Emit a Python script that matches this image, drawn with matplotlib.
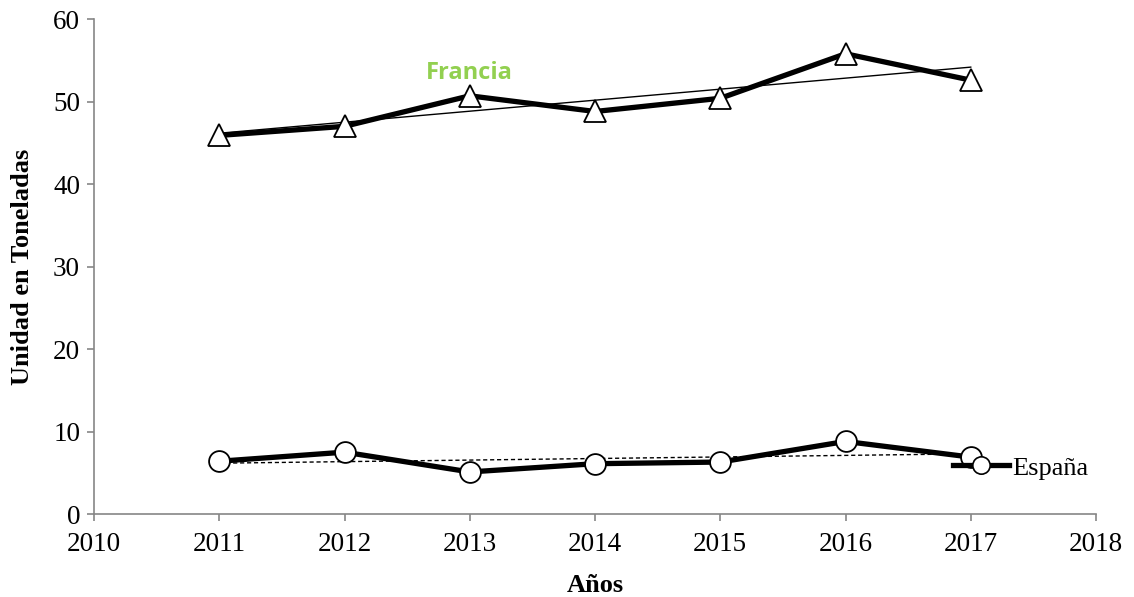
import numpy as np
import matplotlib
matplotlib.use('Agg')
import matplotlib.pyplot as plt
from matplotlib.lines import Line2D

years = [2011, 2012, 2013, 2014, 2015, 2016, 2017]
francia = [45.9, 47.0, 50.7, 48.8, 50.4, 55.8, 52.6]
espana = [6.4, 7.5, 5.1, 6.1, 6.3, 8.8, 6.9]

plt.rcParams['font.family'] = ['Liberation Serif', 'DejaVu Serif']

fig = plt.figure(figsize=(11.34, 5.97), dpi=100)
ax = fig.add_axes([0.0829, 0.139, 0.8836, 0.829])

x = np.array(years)
# linear trend lines
pf = np.polyfit(x, francia, 1)
pe = np.polyfit(x, espana, 1)
ax.plot(x, np.polyval(pf, x), color='black', linewidth=1, zorder=2)
ax.plot(x, np.polyval(pe, x), color='black', linewidth=1, linestyle=(0, (3, 2)), zorder=2)

ax.plot(x, francia, color='black', linewidth=3.8, marker='^', markersize=16,
        markerfacecolor='white', markeredgecolor='black', markeredgewidth=1.3, zorder=3)
ax.plot(x, espana, color='black', linewidth=3.8, marker='o', markersize=15,
        markerfacecolor='white', markeredgecolor='black', markeredgewidth=1.3, zorder=3)

ax.text(2013, 53.45, 'Francia', color='#92D050', fontsize=17, fontweight='bold',
        family=['Open Sans', 'DejaVu Sans'], ha='center', va='center')

handle = Line2D([], [], color='black', linewidth=3.8, marker='o', markersize=12.5,
                markerfacecolor='white', markeredgecolor='black', markeredgewidth=1.2)
ax.legend([handle], ['España'], loc='center left', bbox_to_anchor=(2016.86, 5.6),
          bbox_transform=ax.transData, frameon=False, fontsize=19,
          handlelength=2.1, handletextpad=0.15, borderpad=0, borderaxespad=0)

ax.set_xlim(2010, 2018)
ax.set_ylim(0, 60)
ax.set_xticks(range(2010, 2019))
ax.set_yticks(range(0, 61, 10))
for s in ['top', 'right']:
    ax.spines[s].set_visible(False)
for s in ['left', 'bottom']:
    ax.spines[s].set_color('#868686')
    ax.spines[s].set_linewidth(1.2)
ax.tick_params(axis='both', colors='#868686', labelcolor='black', labelsize=19.5,
               length=5, width=1.2, direction='out')
ax.tick_params(axis='x', pad=8)
ax.tick_params(axis='y', pad=5)
ax.set_xlabel('Años', fontsize=19, fontweight='bold', labelpad=12)
ax.set_ylabel('Unidad en Toneladas', fontsize=19, fontweight='bold', labelpad=14)

fig.savefig('out.png', dpi=100)
